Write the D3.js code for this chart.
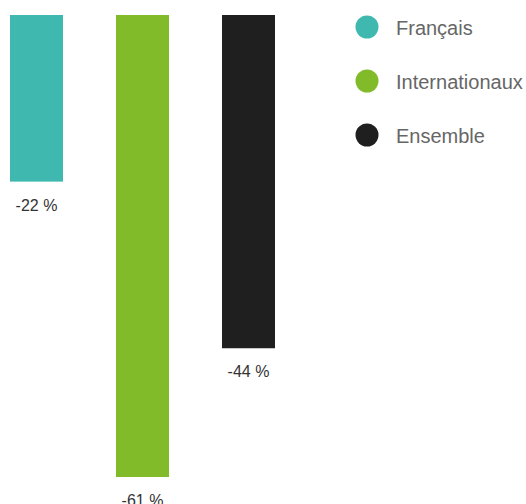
<!DOCTYPE html>
<html>
<head>
<meta charset="utf-8">
<script src="https://cdn.jsdelivr.net/npm/d3@7"></script>
<style>
  html, body { margin: 0; padding: 0; background: #fff; }
  svg { display: block; }
</style>
</head>
<body>
<svg id="chart" width="526" height="504"></svg>
<script>

  // data
  const categories = ['Français', 'Internationaux', 'Ensemble'];
  const values = [-22, -61, -44];
  const colors = ['#3fb8b0', '#82bb2a', '#1f1f1f'];

  const svg = d3.select('#chart');

  const xScale = d3.scaleBand()
    .domain(categories)
    .range([10, 275])
    .paddingInner(0.5)
    .paddingOuter(0);

  const yScale = d3.scaleLinear()
    .domain([0, -61])
    .range([15, 477]);

  const bars = svg.append('g')
    .selectAll('g')
    .data(categories)
    .join('g');

  bars.append('rect')
    .attr('x', d => xScale(d))
    .attr('y', yScale(0))
    .attr('width', xScale.bandwidth())
    .attr('height', (d, i) => yScale(values[i]) - yScale(0))
    .style('fill', (d, i) => colors[i]);

  // value labels (the lowest one runs off the bottom edge, as in the original)
  bars.append('text')
    .attr('x', d => xScale(d) + xScale.bandwidth() / 2)
    .attr('y', (d, i) => yScale(values[i]) + 29)
    .attr('text-anchor', 'middle')
    .style('font-family', '"Liberation Sans", sans-serif')
    .style('font-size', '16px')
    .style('fill', '#333')
    .text((d, i) => values[i] + ' %');

  // legend
  const legend = svg.append('g')
    .selectAll('g')
    .data(categories)
    .join('g')
    .attr('transform', (d, i) => `translate(367, ${27 + i * 54})`);

  legend.append('circle')
    .attr('r', 11.5)
    .style('fill', (d, i) => colors[i]);

  legend.append('text')
    .attr('x', 29)
    .attr('y', 8)
    .style('font-family', '"Liberation Sans", sans-serif')
    .style('font-size', '20px')
    .style('fill', '#666')
    .text(d => d);

</script>
</body>
</html>
